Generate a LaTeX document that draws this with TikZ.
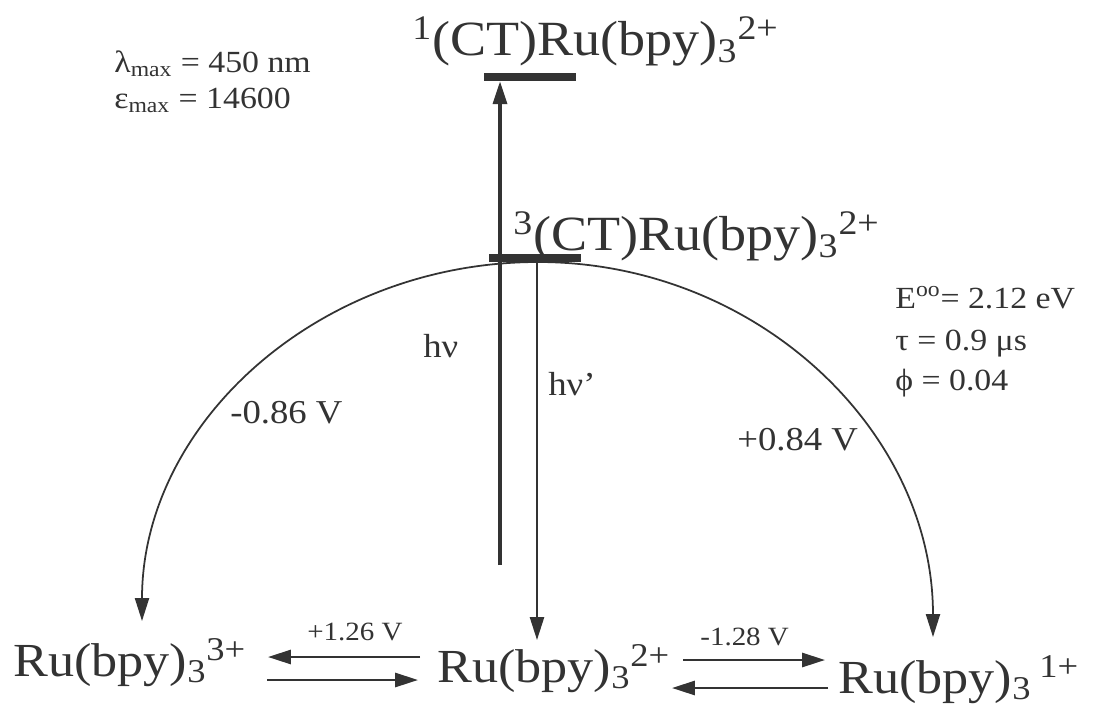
\documentclass[tikz,border=0pt]{standalone}
\usepackage{fontspec}
\setmainfont{Liberation Serif}[FakeStretch=1.1]
\usetikzlibrary{arrows.meta,positioning}
\definecolor{ink}{gray}{0.2}
\tikzset{
  species/.style={anchor=base west,inner sep=0pt,text=ink,font=\fontsize{27}{30}\selectfont},
  state/.style={anchor=base west,inner sep=0pt,text=ink,font=\fontsize{28}{30}\selectfont},
  lbl/.style={anchor=base west,inner sep=0pt,text=ink,font=\fontsize{19}{22}\selectfont},
  data/.style={anchor=base west,inner sep=0pt,text=ink,font=\fontsize{17.5}{21}\selectfont},
  pot/.style={anchor=base west,inner sep=0pt,text=ink,font=\fontsize{15}{18}\selectfont},
  lvl/.style={fill=ink,inner sep=0pt,minimum width=1.84cm,minimum height=0.16cm},
  arc/.style={-{Triangle[length=13pt,width=8pt]},line width=1pt,draw=ink},
  absorb/.style={-{Triangle[length=13pt,width=8pt]},line width=1.8pt,draw=ink},
  emit/.style={-{Triangle[length=13pt,width=8pt]},line width=1.2pt,draw=ink},
  eq/.style={-{Triangle[length=13pt,width=8pt]},line width=1.4pt,draw=ink},
}
\begin{document}
\begin{tikzpicture}[x=0.02cm,y=-0.02cm]
  \useasboundingbox[fill=white] (0,0) rectangle (1093,708);
  %% Excited states
  \node[state] (s1)    at (412,55)  {\textsuperscript{1}(CT)Ru(bpy)\textsubscript{3}\textsuperscript{2+}};
  \node[lvl]   (s1bar) at (530,77)  {};
  \node[state] (t3)    at (513,250) {\textsuperscript{3}(CT)Ru(bpy)\textsubscript{3}\textsuperscript{2+}};
  \node[lvl]   (t3bar) at (535,258) {};
  %% Ground state and redox partners
  \node[species] (ru3) at (13,676)  {Ru(bpy)\textsubscript{3}\textsuperscript{3+}};
  \node[species] (ru2) at (437,682) {Ru(bpy)\textsubscript{3}\textsuperscript{2+}};
  \node[species] (ru1) at (838,693) {Ru(bpy)\textsubscript{3}\,\textsuperscript{1+}};
  %% Data
  \node[data] (lam) at (114,72)  {λ\textsubscript{max} = 450 nm};
  \node[data] (eps) at (114,108) {ε\textsubscript{max} = 14600};
  \node[data] (e00) at (895,308) {E\textsuperscript{oo}= 2.12 eV};
  \node[data] (tau) at (895,350) {τ = 0.9 μs};
  \node[data] (phi) at (895,390) {ϕ = 0.04};
  %% Labels
  \node[lbl] (hv)     at (423,357) {hν};
  \node[lbl] (hvp)    at (548,395) {hν’};
  \node[lbl] (potox)  at (230,423) {-0.86 V};
  \node[lbl] (potred) at (737,450) {+0.84 V};
  \node[pot] (eqox)   at (307,640) {+1.26 V};
  \node[pot] (eqred)  at (700,645) {-1.28 V};
  %% Free ends
  \coordinate (crest)  at (538,262);
  \coordinate (ox)     at (142,621);
  \coordinate (red)    at (933,637);
  \coordinate (hvfoot) at (500,565);
  \coordinate (emfoot) at (537,640);

  %% Edges
  \draw[absorb] (hvfoot) -- (hvfoot |- s1bar.south);
  \draw[emit] (emfoot |- t3bar.south) -- (emfoot);
  \draw[arc] (crest) .. controls +(-219,0) and +(0,-198) .. (ox);
  \draw[arc] (crest) .. controls +(218,0) and +(0,-207) .. (red);
  \draw[eq] ([shift={(-17,-25)}]ru2.base west) -- ([shift={(255,-19)}]ru3.base west);
  \draw[eq] ([shift={(254,4)}]ru3.base west) -- ([shift={(-19,-2)}]ru2.base west);
  \draw[eq] ([shift={(-155,-33)}]ru1.base west) -- ([shift={(-13,-33)}]ru1.base west);
  \draw[eq] ([shift={(-10,-5)}]ru1.base west) -- ([shift={(-166,-5)}]ru1.base west);
\end{tikzpicture}
\end{document}
